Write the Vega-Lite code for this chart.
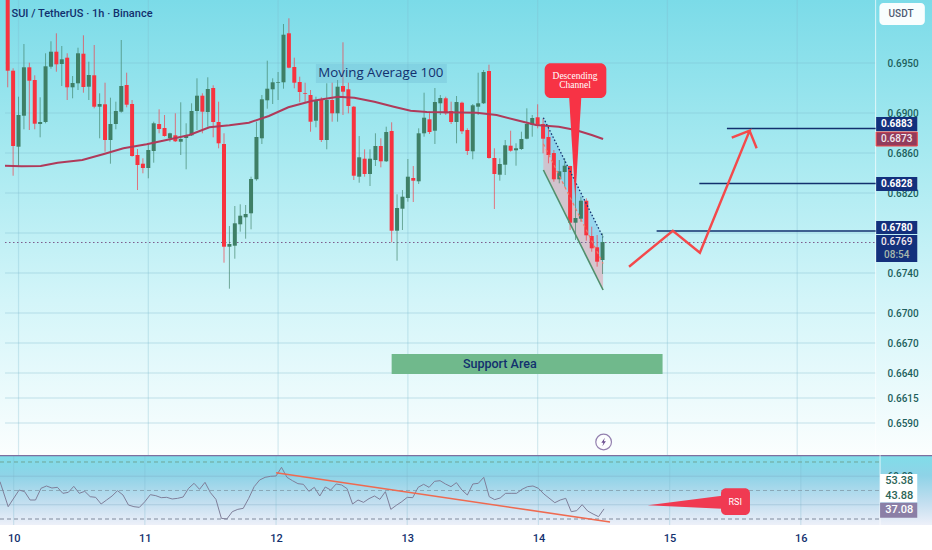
{
  "$schema": "https://vega.github.io/schema/vega-lite/v6.json",
  "padding": 0,
  "background": "#ffffff",
  "spacing": 0,
  "config": {"view": {"stroke": null}, "font": "Roboto", "concat": {"spacing": 0}},
  "datasets": {
    "candles": [
      {"hour":-2,"open":0.7013,"high":0.7013,"low":0.69257,"close":0.69423,"dir":"down"},
      {"hour":-1,"open":0.69423,"high":0.69447,"low":0.68373,"close":0.6867,"dir":"down"},
      {"hour":0,"open":0.68663,"high":0.69163,"low":0.6847,"close":0.6898,"dir":"up"},
      {"hour":1,"open":0.68973,"high":0.6969,"low":0.68837,"close":0.69457,"dir":"up"},
      {"hour":2,"open":0.69457,"high":0.69503,"low":0.6883,"close":0.69323,"dir":"down"},
      {"hour":3,"open":0.6933,"high":0.69377,"low":0.68837,"close":0.68893,"dir":"down"},
      {"hour":4,"open":0.6889,"high":0.69157,"low":0.68757,"close":0.6891,"dir":"up"},
      {"hour":5,"open":0.6891,"high":0.69597,"low":0.68897,"close":0.69467,"dir":"up"},
      {"hour":6,"open":0.69463,"high":0.69717,"low":0.69443,"close":0.69613,"dir":"up"},
      {"hour":7,"open":0.69613,"high":0.69797,"low":0.69413,"close":0.69487,"dir":"down"},
      {"hour":8,"open":0.6949,"high":0.6967,"low":0.6927,"close":0.69537,"dir":"up"},
      {"hour":9,"open":0.69553,"high":0.69597,"low":0.6913,"close":0.69257,"dir":"down"},
      {"hour":10,"open":0.69257,"high":0.6937,"low":0.69147,"close":0.693,"dir":"up"},
      {"hour":11,"open":0.69297,"high":0.69653,"low":0.6923,"close":0.69597,"dir":"up"},
      {"hour":12,"open":0.69593,"high":0.69777,"low":0.69203,"close":0.6926,"dir":"down"},
      {"hour":13,"open":0.69263,"high":0.69513,"low":0.6913,"close":0.6938,"dir":"up"},
      {"hour":14,"open":0.69377,"high":0.6968,"low":0.69047,"close":0.69063,"dir":"down"},
      {"hour":15,"open":0.69063,"high":0.69197,"low":0.68747,"close":0.6909,"dir":"up"},
      {"hour":16,"open":0.69087,"high":0.69303,"low":0.68613,"close":0.6873,"dir":"down"},
      {"hour":17,"open":0.6873,"high":0.69153,"low":0.68493,"close":0.6889,"dir":"up"},
      {"hour":18,"open":0.6889,"high":0.69113,"low":0.68837,"close":0.6902,"dir":"up"},
      {"hour":19,"open":0.69013,"high":0.6973,"low":0.69003,"close":0.6927,"dir":"up"},
      {"hour":20,"open":0.6928,"high":0.69403,"low":0.69057,"close":0.69083,"dir":"down"},
      {"hour":21,"open":0.6909,"high":0.6913,"low":0.68563,"close":0.6857,"dir":"down"},
      {"hour":22,"open":0.6858,"high":0.6864,"low":0.6823,"close":0.6848,"dir":"down"},
      {"hour":23,"open":0.68493,"high":0.68547,"low":0.68397,"close":0.6845,"dir":"down"},
      {"hour":24,"open":0.6845,"high":0.68697,"low":0.68347,"close":0.6863,"dir":"up"},
      {"hour":25,"open":0.6862,"high":0.68913,"low":0.68503,"close":0.68897,"dir":"up"},
      {"hour":26,"open":0.6889,"high":0.69037,"low":0.68797,"close":0.6884,"dir":"down"},
      {"hour":27,"open":0.6885,"high":0.6898,"low":0.68763,"close":0.6877,"dir":"down"},
      {"hour":28,"open":0.68747,"high":0.68803,"low":0.68713,"close":0.68797,"dir":"up"},
      {"hour":29,"open":0.68777,"high":0.68997,"low":0.6871,"close":0.68717,"dir":"down"},
      {"hour":30,"open":0.68713,"high":0.69107,"low":0.6858,"close":0.6874,"dir":"up"},
      {"hour":31,"open":0.6875,"high":0.68897,"low":0.68437,"close":0.68777,"dir":"up"},
      {"hour":32,"open":0.68777,"high":0.69097,"low":0.6877,"close":0.6902,"dir":"up"},
      {"hour":33,"open":0.6902,"high":0.69347,"low":0.6883,"close":0.69173,"dir":"up"},
      {"hour":34,"open":0.69173,"high":0.69197,"low":0.68797,"close":0.69013,"dir":"down"},
      {"hour":35,"open":0.6901,"high":0.69357,"low":0.68863,"close":0.6924,"dir":"up"},
      {"hour":36,"open":0.6925,"high":0.69277,"low":0.68757,"close":0.6891,"dir":"down"},
      {"hour":37,"open":0.6891,"high":0.69113,"low":0.68647,"close":0.68697,"dir":"down"},
      {"hour":38,"open":0.6869,"high":0.68797,"low":0.67503,"close":0.67663,"dir":"down"},
      {"hour":39,"open":0.67663,"high":0.6787,"low":0.67243,"close":0.6769,"dir":"up"},
      {"hour":40,"open":0.67673,"high":0.6807,"low":0.67543,"close":0.67897,"dir":"up"},
      {"hour":41,"open":0.67887,"high":0.68087,"low":0.67813,"close":0.67973,"dir":"up"},
      {"hour":42,"open":0.67957,"high":0.6808,"low":0.67743,"close":0.6799,"dir":"up"},
      {"hour":43,"open":0.67997,"high":0.68363,"low":0.67837,"close":0.6834,"dir":"up"},
      {"hour":44,"open":0.68337,"high":0.68913,"low":0.68323,"close":0.6876,"dir":"up"},
      {"hour":45,"open":0.68747,"high":0.6918,"low":0.6869,"close":0.69137,"dir":"up"},
      {"hour":46,"open":0.69127,"high":0.69523,"low":0.69043,"close":0.69243,"dir":"up"},
      {"hour":47,"open":0.69237,"high":0.69347,"low":0.6909,"close":0.69307,"dir":"up"},
      {"hour":48,"open":0.69303,"high":0.6941,"low":0.6913,"close":0.6931,"dir":"up"},
      {"hour":49,"open":0.69307,"high":0.6989,"low":0.69243,"close":0.69783,"dir":"up"},
      {"hour":50,"open":0.69797,"high":0.69947,"low":0.69447,"close":0.69453,"dir":"down"},
      {"hour":51,"open":0.6946,"high":0.69553,"low":0.69247,"close":0.69303,"dir":"down"},
      {"hour":52,"open":0.6931,"high":0.69363,"low":0.69107,"close":0.6921,"dir":"down"},
      {"hour":53,"open":0.69197,"high":0.69303,"low":0.69103,"close":0.6919,"dir":"down"},
      {"hour":54,"open":0.6918,"high":0.6923,"low":0.68813,"close":0.68913,"dir":"down"},
      {"hour":55,"open":0.68923,"high":0.69163,"low":0.68857,"close":0.6913,"dir":"up"},
      {"hour":56,"open":0.6913,"high":0.69157,"low":0.6871,"close":0.6873,"dir":"down"},
      {"hour":57,"open":0.6873,"high":0.69297,"low":0.68637,"close":0.6913,"dir":"up"},
      {"hour":58,"open":0.6913,"high":0.69303,"low":0.68913,"close":0.68997,"dir":"down"},
      {"hour":59,"open":0.68997,"high":0.6933,"low":0.68913,"close":0.69263,"dir":"up"},
      {"hour":60,"open":0.6927,"high":0.69707,"low":0.6898,"close":0.69213,"dir":"down"},
      {"hour":61,"open":0.69237,"high":0.69303,"low":0.68997,"close":0.6907,"dir":"down"},
      {"hour":62,"open":0.69063,"high":0.6907,"low":0.6833,"close":0.68373,"dir":"down"},
      {"hour":63,"open":0.68363,"high":0.6877,"low":0.68303,"close":0.68557,"dir":"up"},
      {"hour":64,"open":0.68543,"high":0.68637,"low":0.68363,"close":0.6839,"dir":"down"},
      {"hour":65,"open":0.6839,"high":0.68637,"low":0.6827,"close":0.68543,"dir":"up"},
      {"hour":66,"open":0.6853,"high":0.68797,"low":0.6847,"close":0.6867,"dir":"up"},
      {"hour":67,"open":0.6867,"high":0.68747,"low":0.68457,"close":0.68517,"dir":"down"},
      {"hour":68,"open":0.68517,"high":0.68863,"low":0.6851,"close":0.6881,"dir":"up"},
      {"hour":69,"open":0.6882,"high":0.68907,"low":0.67707,"close":0.67823,"dir":"down"},
      {"hour":70,"open":0.67823,"high":0.68187,"low":0.67523,"close":0.6805,"dir":"up"},
      {"hour":71,"open":0.68043,"high":0.6823,"low":0.6783,"close":0.68163,"dir":"up"},
      {"hour":72,"open":0.6815,"high":0.6854,"low":0.68113,"close":0.68363,"dir":"up"},
      {"hour":73,"open":0.6835,"high":0.6847,"low":0.6811,"close":0.68323,"dir":"down"},
      {"hour":74,"open":0.68317,"high":0.68847,"low":0.6829,"close":0.68797,"dir":"up"},
      {"hour":75,"open":0.68797,"high":0.69203,"low":0.68763,"close":0.68953,"dir":"up"},
      {"hour":76,"open":0.68937,"high":0.69013,"low":0.6879,"close":0.6881,"dir":"down"},
      {"hour":77,"open":0.68823,"high":0.6925,"low":0.6869,"close":0.6911,"dir":"up"},
      {"hour":78,"open":0.69097,"high":0.6918,"low":0.6898,"close":0.6915,"dir":"up"},
      {"hour":79,"open":0.69147,"high":0.69163,"low":0.6898,"close":0.68997,"dir":"down"},
      {"hour":80,"open":0.6902,"high":0.69113,"low":0.6889,"close":0.6891,"dir":"down"},
      {"hour":81,"open":0.6891,"high":0.6917,"low":0.68697,"close":0.6911,"dir":"up"},
      {"hour":82,"open":0.69103,"high":0.69113,"low":0.6879,"close":0.68817,"dir":"down"},
      {"hour":83,"open":0.6883,"high":0.68847,"low":0.6858,"close":0.6862,"dir":"down"},
      {"hour":84,"open":0.68617,"high":0.6909,"low":0.68537,"close":0.69077,"dir":"up"},
      {"hour":85,"open":0.69063,"high":0.69403,"low":0.6898,"close":0.69097,"dir":"up"},
      {"hour":86,"open":0.69097,"high":0.6943,"low":0.6909,"close":0.6941,"dir":"up"},
      {"hour":87,"open":0.6942,"high":0.69483,"low":0.68543,"close":0.6855,"dir":"down"},
      {"hour":88,"open":0.6855,"high":0.68647,"low":0.6804,"close":0.6839,"dir":"down"},
      {"hour":89,"open":0.68383,"high":0.68547,"low":0.68323,"close":0.6849,"dir":"up"},
      {"hour":90,"open":0.68483,"high":0.6873,"low":0.6838,"close":0.68677,"dir":"up"},
      {"hour":91,"open":0.68673,"high":0.68823,"low":0.68613,"close":0.68623,"dir":"down"},
      {"hour":92,"open":0.68627,"high":0.68697,"low":0.68473,"close":0.68647,"dir":"up"},
      {"hour":93,"open":0.6864,"high":0.68813,"low":0.6863,"close":0.6874,"dir":"up"},
      {"hour":94,"open":0.68743,"high":0.69047,"low":0.68737,"close":0.6889,"dir":"up"},
      {"hour":95,"open":0.68883,"high":0.6898,"low":0.68763,"close":0.6895,"dir":"up"},
      {"hour":96,"open":0.68957,"high":0.69087,"low":0.68847,"close":0.68883,"dir":"down"},
      {"hour":97,"open":0.6889,"high":0.68947,"low":0.68597,"close":0.68743,"dir":"down"},
      {"hour":98,"open":0.6876,"high":0.68863,"low":0.68497,"close":0.6858,"dir":"down"},
      {"hour":99,"open":0.686,"high":0.6863,"low":0.68313,"close":0.68337,"dir":"down"},
      {"hour":100,"open":0.68337,"high":0.6853,"low":0.68297,"close":0.68417,"dir":"up"},
      {"hour":101,"open":0.6841,"high":0.68547,"low":0.68263,"close":0.68473,"dir":"up"},
      {"hour":102,"open":0.6847,"high":0.68473,"low":0.6783,"close":0.67903,"dir":"down"},
      {"hour":103,"open":0.67903,"high":0.68313,"low":0.6773,"close":0.6795,"dir":"up"},
      {"hour":104,"open":0.67943,"high":0.68163,"low":0.67913,"close":0.68123,"dir":"up"},
      {"hour":105,"open":0.68123,"high":0.68147,"low":0.67723,"close":0.67777,"dir":"down"},
      {"hour":106,"open":0.6777,"high":0.67863,"low":0.67613,"close":0.67647,"dir":"down"},
      {"hour":107,"open":0.67657,"high":0.6778,"low":0.67463,"close":0.67513,"dir":"down"},
      {"hour":108,"open":0.6753,"high":0.67797,"low":0.6739,"close":0.6771,"dir":"up"}
    ]
  },
  "vconcat": [
    {
      "width": 932,
      "height": 455,
      "view": {"stroke": null, "fill": {"gradient": "linear", "x1": 0, "y1": 0, "x2": 0, "y2": 1, "stops": [{"offset": 0, "color": "#7bdbe8"}, {"offset": 0.33, "color": "#a6e9f0"}, {"offset": 0.66, "color": "#d3f5f9"}, {"offset": 1, "color": "#fbfefe"}]}},
      "encoding": {
        "x": {"field": "hour", "type": "quantitative", "scale": {"domain": [-2.5, 168], "nice": false, "zero": false}, "axis": null},
        "y": {"field": "p", "type": "quantitative", "scale": {"domain": [0.6558, 0.7013], "nice": false, "zero": false}, "axis": {"orient": "right", "offset": -52, "title": null, "values": [0.695, 0.69, 0.686, 0.682, 0.674, 0.67, 0.667, 0.664, 0.6615, 0.659], "format": ".4f", "domain": false, "ticks": false, "grid": false, "labelPadding": 7, "labelFont": "Roboto", "labelFontSize": 10, "labelFontWeight": 500, "labelColor": "#1d5f5c", "labelOverlap": false, "labelBound": false}}
      },
      "layer": [
        {
          "data": {"values": [{"p": 0.695, "hour": -2.5, "hour2": 158.5}, {"p": 0.69, "hour": -2.5, "hour2": 158.5}, {"p": 0.686, "hour": -2.5, "hour2": 158.5}, {"p": 0.682, "hour": -2.5, "hour2": 158.5}, {"p": 0.678, "hour": -2.5, "hour2": 158.5}, {"p": 0.674, "hour": -2.5, "hour2": 158.5}, {"p": 0.67, "hour": -2.5, "hour2": 158.5}, {"p": 0.667, "hour": -2.5, "hour2": 158.5}, {"p": 0.664, "hour": -2.5, "hour2": 158.5}, {"p": 0.6615, "hour": -2.5, "hour2": 158.5}, {"p": 0.659, "hour": -2.5, "hour2": 158.5}]},
          "mark": {"type": "rule", "color": "#7fb9cc", "opacity": 0.4, "strokeWidth": 1.2, "clip": true},
          "encoding": {"x2": {"field": "hour2"}}
        },
        {
          "data": {"values": [{"hour": 0, "p": 0.7013, "p2": 0.6558}, {"hour": 24, "p": 0.7013, "p2": 0.6558}, {"hour": 48, "p": 0.7013, "p2": 0.6558}, {"hour": 72, "p": 0.7013, "p2": 0.6558}, {"hour": 96, "p": 0.7013, "p2": 0.6558}, {"hour": 120, "p": 0.7013, "p2": 0.6558}, {"hour": 144, "p": 0.7013, "p2": 0.6558}]},
          "mark": {"type": "rule", "color": "#7fb9cc", "opacity": 0.3, "strokeWidth": 1.2, "clip": true},
          "encoding": {"y2": {"field": "p2"}}
        },
        {
          "data": {"values": [{"hour": 158.5, "p": 0.7013, "p2": 0.6558}]},
          "mark": {"type": "rule", "color": "#ffffff", "opacity": 0.7, "strokeWidth": 1, "clip": true},
          "encoding": {"y2": {"field": "p2"}}
        },
        {
          "data": {"values": [{"hour": 97.06, "p": 0.68953, "p2": 0.68692}, {"hour": 108.1, "p": 0.67757, "p2": 0.67494}]},
          "mark": {"type": "area", "color": "#7fc6ea", "opacity": 0.6},
          "encoding": {"y2": {"field": "p2"}}
        },
        {
          "data": {"values": [{"hour": 97.06, "p": 0.68692, "p2": 0.6843}, {"hour": 108.1, "p": 0.67494, "p2": 0.6723}]},
          "mark": {"type": "area", "color": "#dbb5c2", "opacity": 0.75},
          "encoding": {"y2": {"field": "p2"}}
        },
        {
          "data": {"values": [{"hour": -2.5, "p": 0.67705}, {"hour": 158.5, "p": 0.67705}]},
          "mark": {"type": "line", "color": "#7d5b8c", "strokeWidth": 1, "strokeDash": [1.5, 2.5], "clip": true}
        },
        {
          "data": {"name": "candles"},
          "mark": {"type": "rule", "strokeWidth": 1, "opacity": 0.65, "clip": true},
          "encoding": {
            "y": {"field": "low", "type": "quantitative", "scale": {"domain": [0.6558, 0.7013], "nice": false, "zero": false}},
            "y2": {"field": "high"},
            "color": {"field": "dir", "type": "nominal", "scale": {"domain": ["up", "down"], "range": ["#3e7f66", "#f7333f"]}, "legend": null}
          }
        },
        {
          "data": {"name": "candles"},
          "mark": {"type": "bar", "size": 4, "orient": "vertical", "clip": true},
          "encoding": {
            "y": {"field": "open", "type": "quantitative", "scale": {"domain": [0.6558, 0.7013], "nice": false, "zero": false}},
            "y2": {"field": "close"},
            "color": {"field": "dir", "type": "nominal", "scale": {"domain": ["up", "down"], "range": ["#3e7f66", "#f7333f"]}, "legend": null}
          }
        },
        {
          "data": {"values": [{"hour": -2.5, "p": 0.68473}, {"hour": 0.55, "p": 0.68467}, {"hour": 4.1, "p": 0.6847}, {"hour": 7.25, "p": 0.68503}, {"hour": 11.8, "p": 0.6853}, {"hour": 15.8, "p": 0.6859}, {"hour": 19.4, "p": 0.68647}, {"hour": 23.7, "p": 0.68687}, {"hour": 28, "p": 0.68737}, {"hour": 31.6, "p": 0.6878}, {"hour": 35.3, "p": 0.68857}, {"hour": 39, "p": 0.68877}, {"hour": 42.6, "p": 0.68903}, {"hour": 46.3, "p": 0.6897}, {"hour": 49.9, "p": 0.69057}, {"hour": 54.2, "p": 0.6912}, {"hour": 59.1, "p": 0.69163}, {"hour": 62.1, "p": 0.69153}, {"hour": 65.8, "p": 0.69113}, {"hour": 69.4, "p": 0.69063}, {"hour": 72.5, "p": 0.69023}, {"hour": 75.5, "p": 0.6901}, {"hour": 84.7, "p": 0.69003}, {"hour": 88.4, "p": 0.6898}, {"hour": 92, "p": 0.6893}, {"hour": 95.7, "p": 0.6888}, {"hour": 99.9, "p": 0.68863}, {"hour": 103, "p": 0.6883}, {"hour": 106, "p": 0.6878}, {"hour": 108.1, "p": 0.6874}]},
          "mark": {"type": "line", "color": "#b03a5a", "strokeWidth": 2, "clip": true}
        },
        {
          "data": {"values": [{"hour": 97.06, "p": 0.68953}, {"hour": 108.1, "p": 0.67757}]},
          "mark": {"type": "line", "color": "#12306e", "strokeWidth": 1.3, "strokeDash": [1.5, 2]}
        },
        {
          "data": {"values": [{"hour": 97.06, "p": 0.68692}, {"hour": 108.1, "p": 0.67494}]},
          "mark": {"type": "line", "color": "#ef7a6a", "strokeWidth": 1.2, "strokeDash": [3, 3]}
        },
        {
          "data": {"values": [{"hour": 97.06, "p": 0.6843}, {"hour": 108.1, "p": 0.6723}]},
          "mark": {"type": "line", "color": "#4f8f6c", "strokeWidth": 1.6}
        },
        {
          "data": {"values": [{"hour": 131, "p": 0.68845, "hour2": 158.5}, {"hour": 125.9, "p": 0.68295, "hour2": 158.5}, {"hour": 118, "p": 0.6782, "hour2": 158.5}]},
          "mark": {"type": "rule", "color": "#12306e", "strokeWidth": 1.4},
          "encoding": {"x2": {"field": "hour2"}}
        },
        {
          "data": {"values": [{"step": 1, "hour": 112.9, "p": 0.67463}, {"step": 2, "hour": 121, "p": 0.67823}, {"step": 3, "hour": 126, "p": 0.67603}, {"step": 4, "hour": 135.2, "p": 0.68823}, {"step": 5, "hour": 131.9, "p": 0.68753}, {"step": 6, "hour": 135.2, "p": 0.68823}, {"step": 7, "hour": 136.5, "p": 0.68647}]},
          "mark": {"type": "line", "color": "#f4494b", "strokeWidth": 2.4},
          "encoding": {"order": {"field": "step", "type": "quantitative"}}
        },
        {
          "data": {"values": [{"hour": 69, "hour2": 119.1, "p": 0.6659, "p2": 0.6639}]},
          "mark": {"type": "rect", "color": "#70b98c"},
          "encoding": {"x2": {"field": "hour2"}, "y2": {"field": "p2"}}
        },
        {
          "data": {"values": [{"hour": 89, "p": 0.6649, "label": "Support Area"}]},
          "mark": {"type": "text", "color": "#12306e", "fontSize": 12.5, "fontWeight": 500, "font": "Roboto", "align": "center", "baseline": "middle"},
          "encoding": {"text": {"field": "label", "type": "nominal"}}
        },
        {
          "data": {"values": [{"hour": 55, "hour2": 79.2, "p": 0.6949, "p2": 0.693}]},
          "mark": {"type": "rect", "color": "#5fa8c8", "opacity": 0.25},
          "encoding": {"x2": {"field": "hour2"}, "y2": {"field": "p2"}}
        },
        {
          "data": {"values": [{"hour": 67, "p": 0.694, "label": "Moving Average 100"}]},
          "mark": {"type": "text", "color": "#12306e", "fontSize": 13.3, "font": "Open Sans", "align": "center", "baseline": "middle"},
          "encoding": {"text": {"field": "label", "type": "nominal"}}
        },
        {
          "data": {"values": [{"hour": -1.3, "p": 0.6999, "label": "SUI / TetherUS · 1h · Binance"}]},
          "mark": {"type": "text", "color": "#12306e", "fontSize": 11, "fontWeight": 500, "font": "Roboto", "align": "left", "baseline": "middle"},
          "encoding": {"text": {"field": "label", "type": "nominal"}}
        },
        {
          "data": {"values": [{"p": 0.6918, "hour": 101.8, "hour2": 104.1}, {"p": 0.6814, "hour": 102.95, "hour2": 102.95}]},
          "mark": {"type": "area", "orient": "horizontal", "color": "#f73345"},
          "encoding": {"x2": {"field": "hour2"}}
        },
        {
          "data": {"values": [{"hour": 97.3, "hour2": 108.7, "p": 0.69497, "p2": 0.6915}]},
          "mark": {"type": "rect", "color": "#f73345", "cornerRadius": 6},
          "encoding": {"x2": {"field": "hour2"}, "y2": {"field": "p2"}}
        },
        {
          "data": {"values": [{"hour": 102.9, "p": 0.6937, "label": "Descending"}, {"hour": 102.9, "p": 0.6928, "label": "Channel"}]},
          "mark": {"type": "text", "color": "#ffffff", "fontSize": 9.5, "font": "Liberation Serif", "align": "center", "baseline": "middle"},
          "encoding": {"text": {"field": "label", "type": "nominal"}}
        },
        {
          "data": {"values": [{"hour": 108.2, "p": 0.6571}]},
          "mark": {"type": "point", "shape": "circle", "size": 246, "fill": "#ffffff", "stroke": "#6a4d8f", "strokeWidth": 1.2, "filled": false}
        },
        {
          "data": {"values": [{"hour": 108.2, "p": 0.6571}]},
          "mark": {"type": "point", "shape": "M0.3,-1 L-0.55,0.15 L-0.05,0.15 L-0.3,1 L0.55,-0.2 L0.05,-0.2 Z", "size": 70, "filled": true, "color": "#6a4d8f", "opacity": 1}
        },
        {
          "data": {"values": [{"hour": 159.2, "hour2": 167.6, "p": 0.701, "p2": 0.6988}]},
          "mark": {"type": "rect", "color": "#ffffff", "cornerRadius": 4, "opacity": 0.95},
          "encoding": {"x2": {"field": "hour2"}, "y2": {"field": "p2"}}
        },
        {
          "data": {"values": [{"hour": 163.2, "p": 0.6999, "label": "USDT"}]},
          "mark": {"type": "text", "color": "#4f5a72", "fontSize": 10, "fontWeight": 500, "font": "Roboto", "align": "center", "baseline": "middle"},
          "encoding": {"text": {"field": "label", "type": "nominal"}}
        },
        {
          "data": {"values": [{"hour": 158.6, "hour2": 166.2, "p": 0.6896, "p2": 0.6882}, {"hour": 158.6, "hour2": 166.2, "p": 0.6836, "p2": 0.6822}, {"hour": 158.6, "hour2": 166.2, "p": 0.6792, "p2": 0.6779}, {"hour": 158.6, "hour2": 166.2, "p": 0.6778, "p2": 0.6751}]},
          "mark": {"type": "rect", "color": "#13307c"},
          "encoding": {"x2": {"field": "hour2"}, "y2": {"field": "p2"}}
        },
        {
          "data": {"values": [{"hour": 158.6, "hour2": 166.2, "p": 0.6881, "p2": 0.6867}]},
          "mark": {"type": "rect", "color": "#923c5c", "stroke": "#f4494b", "strokeWidth": 1},
          "encoding": {"x2": {"field": "hour2"}, "y2": {"field": "p2"}}
        },
        {
          "data": {"values": [{"hour": 162.4, "p": 0.6889, "label": "0.6883"}, {"hour": 162.4, "p": 0.6829, "label": "0.6828"}, {"hour": 162.4, "p": 0.67855, "label": "0.6780"}]},
          "mark": {"type": "text", "color": "#ffffff", "fontSize": 10, "fontWeight": 700, "font": "Roboto", "align": "center", "baseline": "middle"},
          "encoding": {"text": {"field": "label", "type": "nominal"}}
        },
        {
          "data": {"values": [{"hour": 162.4, "p": 0.6874, "label": "0.6873"}, {"hour": 162.4, "p": 0.6771, "label": "0.6769"}]},
          "mark": {"type": "text", "color": "#f3e9ee", "fontSize": 10, "fontWeight": 500, "font": "Roboto", "align": "center", "baseline": "middle"},
          "encoding": {"text": {"field": "label", "type": "nominal"}}
        },
        {
          "data": {"values": [{"hour": 162.4, "p": 0.6758, "label": "08:54"}]},
          "mark": {"type": "text", "color": "#a8b8ac", "fontSize": 10, "fontWeight": 500, "font": "Roboto", "align": "center", "baseline": "middle"},
          "encoding": {"text": {"field": "label", "type": "nominal"}}
        }
      ]
    },
    {
      "width": 932,
      "height": 70,
      "view": {"stroke": null, "fill": {"gradient": "linear", "x1": 0, "y1": 0, "x2": 0, "y2": 1, "stops": [{"offset": 0, "color": "#7fdde9"}, {"offset": 0.3, "color": "#8fd3e7"}, {"offset": 0.7, "color": "#c5dff0"}, {"offset": 1, "color": "#edf0f9"}]}},
      "encoding": {
        "x": {"field": "hour", "type": "quantitative", "scale": {"domain": [-2.5, 168], "nice": false, "zero": false}, "axis": {"orient": "bottom", "title": null, "values": [0, 24, 48, 72, 96, 120, 144], "labelExpr": "format(10 + datum.value / 24, 'd')", "domain": false, "ticks": false, "grid": false, "labelPadding": 7, "labelFont": "Roboto", "labelFontSize": 11, "labelFontWeight": 500, "labelColor": "#12306e", "labelOverlap": false}},
        "y": {"field": "v", "type": "quantitative", "scale": {"domain": [25.8, 74.9], "nice": false, "zero": false}, "axis": {"orient": "right", "offset": -52, "title": null, "values": [60], "format": ".2f", "domain": false, "ticks": false, "grid": false, "labelPadding": 7, "labelFont": "Roboto", "labelFontSize": 10, "labelFontWeight": 500, "labelColor": "#1d5f5c", "labelOverlap": false, "labelBound": false}}
      },
      "layer": [
        {
          "data": {"values": [{"hour": 0, "v": 74.9, "v2": 25.8}, {"hour": 24, "v": 74.9, "v2": 25.8}, {"hour": 48, "v": 74.9, "v2": 25.8}, {"hour": 72, "v": 74.9, "v2": 25.8}, {"hour": 96, "v": 74.9, "v2": 25.8}, {"hour": 120, "v": 74.9, "v2": 25.8}, {"hour": 144, "v": 74.9, "v2": 25.8}]},
          "mark": {"type": "rule", "color": "#7fb9cc", "opacity": 0.3, "strokeWidth": 1.2, "clip": true},
          "encoding": {"y2": {"field": "v2"}}
        },
        {
          "data": {"values": [{"v": 60, "hour": -2.5, "hour2": 158.5}, {"v": 40, "hour": -2.5, "hour2": 158.5}]},
          "mark": {"type": "rule", "color": "#7fa9c4", "opacity": 0.4, "strokeWidth": 1, "clip": true},
          "encoding": {"x2": {"field": "hour2"}}
        },
        {
          "data": {"values": [{"v": 70, "hour": -2.5, "hour2": 158.5}]},
          "mark": {"type": "rule", "color": "#6fa596", "strokeWidth": 1, "strokeDash": [4, 3], "clip": true},
          "encoding": {"x2": {"field": "hour2"}}
        },
        {
          "data": {"values": [{"v": 50, "hour": -2.5, "hour2": 158.5}]},
          "mark": {"type": "rule", "color": "#8aa7b8", "strokeWidth": 1, "strokeDash": [4, 3], "clip": true},
          "encoding": {"x2": {"field": "hour2"}}
        },
        {
          "data": {"values": [{"v": 30, "hour": -2.5, "hour2": 158.5}]},
          "mark": {"type": "rule", "color": "#7f8a9c", "strokeWidth": 1, "strokeDash": [4, 3], "clip": true},
          "encoding": {"x2": {"field": "hour2"}}
        },
        {
          "data": {"values": [{"hour": -2.5, "v": 74.6, "hour2": 168}]},
          "mark": {"type": "rule", "color": "#7d6fa0", "strokeWidth": 1.5, "clip": true},
          "encoding": {"x2": {"field": "hour2"}}
        },
        {
          "data": {"values": [{"hour": 158.5, "v": 74.9, "v2": 25.8}]},
          "mark": {"type": "rule", "color": "#ffffff", "opacity": 0.7, "strokeWidth": 1, "clip": true},
          "encoding": {"y2": {"field": "v2"}}
        },
        {
          "data": {"values": [{"hour": -2.5, "v": 56.2}, {"hour": -1, "v": 38.65}, {"hour": 1, "v": 50.35}, {"hour": 2, "v": 49.18}, {"hour": 3, "v": 43.33}, {"hour": 4, "v": 43.33}, {"hour": 5, "v": 51.52}, {"hour": 6, "v": 53.16}, {"hour": 7, "v": 51.75}, {"hour": 8, "v": 52.22}, {"hour": 9, "v": 48.01}, {"hour": 10, "v": 48.71}, {"hour": 11, "v": 52.92}, {"hour": 12, "v": 48.01}, {"hour": 13, "v": 49.42}, {"hour": 14, "v": 45.67}, {"hour": 15, "v": 45.2}, {"hour": 16, "v": 40.53}, {"hour": 17, "v": 43.33}, {"hour": 18, "v": 46.14}, {"hour": 19, "v": 49.88}, {"hour": 20, "v": 46.84}, {"hour": 21, "v": 39.82}, {"hour": 22, "v": 38.65}, {"hour": 23, "v": 38.19}, {"hour": 24, "v": 42.16}, {"hour": 25, "v": 47.08}, {"hour": 26, "v": 46.37}, {"hour": 27, "v": 44.97}, {"hour": 28, "v": 45.2}, {"hour": 29, "v": 44.04}, {"hour": 30, "v": 44.5}, {"hour": 31, "v": 45.44}, {"hour": 32, "v": 51.52}, {"hour": 33, "v": 55.03}, {"hour": 34, "v": 50.82}, {"hour": 35, "v": 55.73}, {"hour": 36, "v": 48.48}, {"hour": 37, "v": 43.8}, {"hour": 38, "v": 30.47}, {"hour": 39, "v": 30}, {"hour": 40, "v": 35.15}, {"hour": 41, "v": 36.78}, {"hour": 42, "v": 37.49}, {"hour": 43, "v": 44.5}, {"hour": 44, "v": 52.69}, {"hour": 45, "v": 57.37}, {"hour": 46, "v": 59.24}, {"hour": 47, "v": 59.94}, {"hour": 48, "v": 60.18}, {"hour": 49, "v": 66.26}, {"hour": 50, "v": 59.24}, {"hour": 51, "v": 56.9}, {"hour": 52, "v": 54.8}, {"hour": 53, "v": 54.33}, {"hour": 54, "v": 49.42}, {"hour": 55, "v": 52.22}, {"hour": 56, "v": 46.14}, {"hour": 57, "v": 52.46}, {"hour": 58, "v": 50.35}, {"hour": 59, "v": 54.56}, {"hour": 60, "v": 53.86}, {"hour": 61, "v": 51.29}, {"hour": 62, "v": 40.53}, {"hour": 63, "v": 43.33}, {"hour": 64, "v": 41.7}, {"hour": 65, "v": 44.27}, {"hour": 66, "v": 46.14}, {"hour": 67, "v": 43.8}, {"hour": 68, "v": 49.18}, {"hour": 69, "v": 36.78}, {"hour": 70, "v": 39.59}, {"hour": 71, "v": 42.16}, {"hour": 72, "v": 45.2}, {"hour": 73, "v": 44.97}, {"hour": 74, "v": 52.22}, {"hour": 75, "v": 54.33}, {"hour": 76, "v": 52.22}, {"hour": 77, "v": 56.43}, {"hour": 78, "v": 56.9}, {"hour": 79, "v": 54.56}, {"hour": 80, "v": 52.69}, {"hour": 81, "v": 55.5}, {"hour": 82, "v": 50.35}, {"hour": 83, "v": 46.84}, {"hour": 84, "v": 54.56}, {"hour": 85, "v": 55.03}, {"hour": 86, "v": 59.24}, {"hour": 87, "v": 45.67}, {"hour": 88, "v": 43.57}, {"hour": 89, "v": 44.74}, {"hour": 90, "v": 48.01}, {"hour": 91, "v": 48.01}, {"hour": 92, "v": 48.01}, {"hour": 93, "v": 50.82}, {"hour": 94, "v": 52.69}, {"hour": 95, "v": 53.16}, {"hour": 96, "v": 51.52}, {"hour": 97, "v": 47.54}, {"hour": 99, "v": 41.46}, {"hour": 100, "v": 43.33}, {"hour": 101, "v": 44.5}, {"hour": 102, "v": 35.15}, {"hour": 103, "v": 35.85}, {"hour": 104, "v": 40.06}, {"hour": 105, "v": 35.61}, {"hour": 106, "v": 33.51}, {"hour": 107, "v": 31.64}, {"hour": 108, "v": 37.08}]},
          "mark": {"type": "line", "color": "#7f7f9a", "strokeWidth": 1, "clip": true}
        },
        {
          "data": {"values": [{"hour": 48, "v": 62.5}, {"hour": 109.1, "v": 27.9}]},
          "mark": {"type": "line", "color": "#ef6a50", "strokeWidth": 1.6}
        },
        {
          "data": {"values": [{"hour": 116, "v": 39.6, "v2": 39.6}, {"hour": 129.6, "v": 46.37, "v2": 37.25}]},
          "mark": {"type": "area", "color": "#f03a52"},
          "encoding": {"y2": {"field": "v2"}}
        },
        {
          "data": {"values": [{"hour": 129.4, "hour2": 134.7, "v": 51.52, "v2": 32.8}]},
          "mark": {"type": "rect", "color": "#f03a52", "cornerRadius": 5},
          "encoding": {"x2": {"field": "hour2"}, "y2": {"field": "v2"}}
        },
        {
          "data": {"values": [{"hour": 132, "v": 42.2, "label": "RSI"}]},
          "mark": {"type": "text", "color": "#ffffff", "fontSize": 9, "font": "Roboto", "align": "center", "baseline": "middle"},
          "encoding": {"text": {"field": "label", "type": "nominal"}}
        },
        {
          "data": {"values": [{"hour": 158.5, "hour2": 165.3, "v": 61.58, "v2": 41.93}]},
          "mark": {"type": "rect", "color": "#ffffff"},
          "encoding": {"x2": {"field": "hour2"}, "y2": {"field": "v2"}}
        },
        {
          "data": {"values": [{"hour": 158.5, "hour2": 165.3, "v": 41.46, "v2": 30.94}]},
          "mark": {"type": "rect", "color": "#8b7fa6"},
          "encoding": {"x2": {"field": "hour2"}, "y2": {"field": "v2"}}
        },
        {
          "data": {"values": [{"hour": 162, "v": 56.43, "label": "53.38"}, {"hour": 162, "v": 46.37, "label": "43.88"}]},
          "mark": {"type": "text", "color": "#2c6558", "fontSize": 11, "fontWeight": 500, "font": "Roboto", "align": "center", "baseline": "middle"},
          "encoding": {"text": {"field": "label", "type": "nominal"}}
        },
        {
          "data": {"values": [{"hour": 162, "v": 36.32, "label": "37.08"}]},
          "mark": {"type": "text", "color": "#ffffff", "fontSize": 11, "fontWeight": 500, "font": "Roboto", "align": "center", "baseline": "middle"},
          "encoding": {"text": {"field": "label", "type": "nominal"}}
        }
      ]
    }
  ]
}
